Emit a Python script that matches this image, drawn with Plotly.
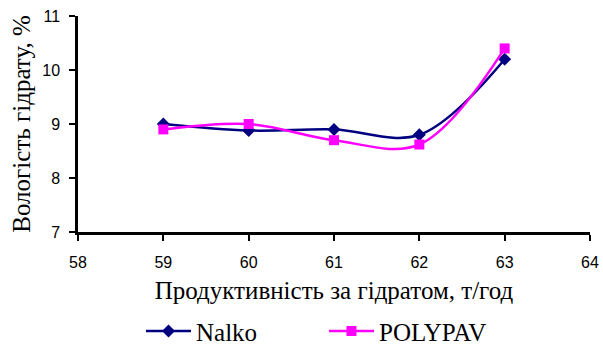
import plotly.graph_objects as go

x_vals = [59, 60, 61, 62, 63]
nalko = [9.0, 8.88, 8.9, 8.8, 10.2]
polypav = [8.9, 9.0, 8.7, 8.62, 10.4]

fig = go.Figure()
fig.add_trace(go.Scatter(x=x_vals, y=nalko, name="Nalko", mode="lines+markers",
                         line=dict(color="#000080", width=2.5, shape="spline", smoothing=1.0),
                         marker=dict(symbol="diamond", size=10, color="#000080")))
fig.add_trace(go.Scatter(x=x_vals, y=polypav, name="POLYPAV", mode="lines+markers",
                         line=dict(color="#FF00FF", width=2.5, shape="spline", smoothing=1.0),
                         marker=dict(symbol="square", size=10, color="#FF00FF")))

axis_common = dict(showline=True, linecolor="black", linewidth=2.5, ticks="outside",
                   tickcolor="black", tickwidth=2, ticklen=6, showgrid=False, zeroline=False,
                   automargin=False, ticklabeloverflow="allow",
                   tickfont=dict(family="Liberation Sans", size=16, color="black"))
serif = dict(family="Liberation Serif", size=25, color="black")
fig.update_layout(
    width=603, height=345,
    margin=dict(l=78, r=13, t=16, b=113),
    paper_bgcolor="white", plot_bgcolor="white",
    xaxis=dict(range=[58, 64], dtick=1, ticklabelstandoff=8,
               title=dict(text="Продуктивність за гідратом, т/год", font=serif, standoff=12),
               **axis_common),
    yaxis=dict(range=[7, 11], dtick=1, ticklabelstandoff=6,
               title=dict(text="Вологість гідрату, %", font=serif, standoff=5),
               **axis_common),
    legend=dict(orientation="h", x=0.123, xanchor="left", yref="container", y=0.04,
                yanchor="middle", font=serif, itemwidth=45, entrywidth=123,
                entrywidthmode="pixels", tracegroupgap=0),
    showlegend=True,
)
fig.write_html("out.html", post_script="document.body.style.margin='0';",
               config={"displayModeBar": False})
